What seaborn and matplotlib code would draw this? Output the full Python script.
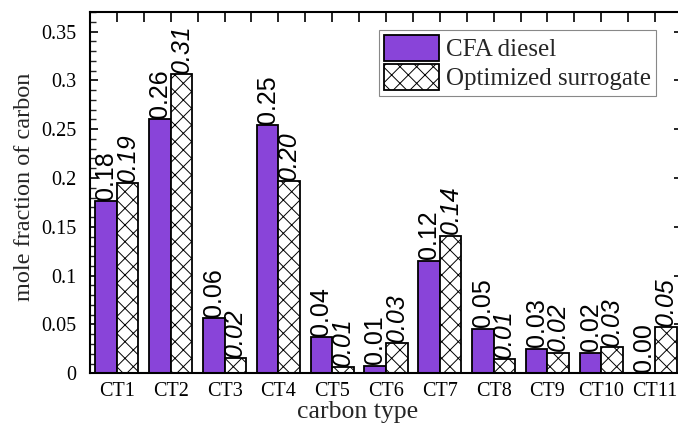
import matplotlib
matplotlib.use("Agg")
import matplotlib.pyplot as plt
import matplotlib.patches as mpatches
from matplotlib.ticker import MultipleLocator, FuncFormatter
import seaborn as sns
import pandas as pd

# Carbon-type distribution (mole fraction of carbon)
carbon_types = ["CT1", "CT2", "CT3", "CT4", "CT5", "CT6",
                "CT7", "CT8", "CT9", "CT10", "CT11"]
cfa_diesel = [0.176, 0.260, 0.0564, 0.254, 0.0368, 0.0077,
              0.1155, 0.0457, 0.0252, 0.021, 0.0]
surrogate = [0.1946, 0.306, 0.0153, 0.1966, 0.006, 0.0307,
             0.1409, 0.0143, 0.021, 0.0269, 0.0471]
series_names = ["CFA diesel", "Optimized surrogate"]

df = pd.DataFrame({
    "carbon type": carbon_types * 2,
    "value": cfa_diesel + surrogate,
    "series": [series_names[0]] * len(carbon_types) + [series_names[1]] * len(carbon_types),
})

sns.set_theme(style="white")
plt.rcParams["font.family"] = ["Liberation Serif", "DejaVu Serif"]
plt.rcParams["hatch.linewidth"] = 0.7

PURPLE = "#8944D9"
fig = plt.figure(figsize=(6.78, 4.29), dpi=100)
ax = fig.add_axes([90 / 678, 1 - 373.3 / 429, 592 / 678, (373.3 - 12) / 429])

sns.barplot(data=df, x="carbon type", y="value", hue="series",
            order=carbon_types, hue_order=series_names,
            palette={series_names[0]: PURPLE, series_names[1]: "white"},
            edgecolor="black", linewidth=1.3, saturation=1,
            legend=False, ax=ax, width=0.8)

for bar in ax.containers[1]:
    bar.set_hatch("xx")

# value labels, rotated above each bar
for cont, vals, style in zip(ax.containers, [cfa_diesel, surrogate], ["normal", "italic"]):
    for bar, v in zip(cont, vals):
        ax.annotate(f"{v:.2f}", (bar.get_x() + bar.get_width() / 2, v),
                    xytext=(0, 1), textcoords="offset points",
                    rotation=90, ha="center", va="bottom",
                    fontsize=18, family="Liberation Sans", style=style,
                    color="black")

ax.set_xlim(-0.5, len(carbon_types) - 0.5)
ax.set_ylim(0, 0.37)
ax.yaxis.set_major_locator(MultipleLocator(0.05))
ax.yaxis.set_minor_locator(MultipleLocator(0.01))
ax.yaxis.set_major_formatter(FuncFormatter(lambda v, p: f"{v:g}"))
ax.xaxis.set_minor_locator(MultipleLocator(0.5))

for s in ax.spines.values():
    s.set_visible(True)
    s.set_color("black")
    s.set_linewidth(1.5)

ax.tick_params(axis="y", which="major", direction="in", length=6, width=1.2,
               left=True, right=True, labelsize=14.5, pad=10, colors="black")
ax.tick_params(axis="y", which="minor", direction="in", length=4, width=1.0,
               left=True, right=False)
ax.tick_params(axis="x", which="both", direction="in", length=7, width=1.2,
               bottom=False, top=True, labelsize=14.5, pad=6, colors="black")
ax.set_xlabel("")
ax.set_ylabel("")

fig.text(25 / 678, 1 - 186.5 / 429, "mole fraction of carbon", rotation=90,
         ha="center", va="center", fontsize=17.5)
fig.text(358 / 678, 1 - 412 / 429, "carbon type", ha="center", va="center",
         fontsize=18.5)

handles = [
    mpatches.Patch(facecolor=PURPLE, edgecolor="black", linewidth=1.3, label=series_names[0]),
    mpatches.Patch(facecolor="white", edgecolor="black", linewidth=1.3, hatch="xx",
                   label=series_names[1]),
]
leg = ax.legend(handles=handles, loc="upper right",
                bbox_to_anchor=(656 / 678, 1 - 30 / 429), bbox_transform=fig.transFigure,
                borderaxespad=0, fontsize=18, frameon=True, fancybox=False,
                framealpha=1, edgecolor="#888888", handlelength=2.2,
                handleheight=1.2, handletextpad=0.3, labelspacing=0.12,
                borderpad=0.2)
leg.get_frame().set_linewidth(0.8)

fig.savefig("out.png", dpi=100)
